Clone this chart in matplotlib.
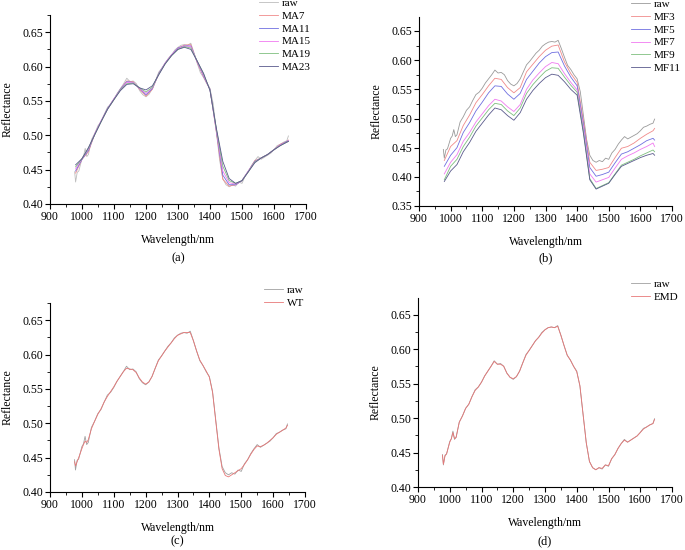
import numpy as np
import matplotlib
matplotlib.use("Agg")
from matplotlib import pyplot as plt
from matplotlib.ticker import MultipleLocator

plt.rcParams['font.family'] = ['Liberation Serif', 'DejaVu Serif']

# raw spectrum (10 nm grid with a few extra points at the noisy start)
wl_raw = [977, 980, 985, 990, 1000, 1005, 1010, 1015, 1020] + list(range(1030, 1650, 10)) + [1645]
raw = [0.447, 0.432, 0.446, 0.448, 0.466, 0.470, 0.481, 0.469, 0.472, 0.494,
       0.503, 0.514, 0.520, 0.531, 0.541, 0.545, 0.552, 0.561, 0.568, 0.575,
       0.583, 0.578, 0.579, 0.575, 0.565, 0.559, 0.556, 0.560, 0.568, 0.580,
       0.592, 0.598, 0.605, 0.612, 0.617, 0.624, 0.628, 0.631, 0.632, 0.631,
       0.634, 0.620, 0.605, 0.591, 0.584, 0.575, 0.568, 0.546, 0.505, 0.464,
       0.437, 0.428, 0.425, 0.428, 0.426, 0.432, 0.430, 0.441, 0.447, 0.456,
       0.463, 0.469, 0.465, 0.468, 0.471, 0.474, 0.479, 0.485, 0.487, 0.490,
       0.492, 0.499]
wt = [0.444, 0.438, 0.444, 0.450, 0.463, 0.469, 0.474, 0.472, 0.476, 0.492,
      0.503, 0.513, 0.521, 0.531, 0.539, 0.546, 0.553, 0.561, 0.568, 0.575,
      0.580, 0.579, 0.578, 0.574, 0.566, 0.560, 0.557, 0.560, 0.568, 0.580,
      0.591, 0.598, 0.605, 0.611, 0.617, 0.623, 0.628, 0.630, 0.632, 0.632,
      0.632, 0.620, 0.605, 0.592, 0.584, 0.576, 0.567, 0.545, 0.503, 0.462,
      0.434, 0.424, 0.422, 0.425, 0.428, 0.431, 0.434, 0.440, 0.447, 0.455,
      0.462, 0.467, 0.466, 0.468, 0.471, 0.475, 0.479, 0.484, 0.487, 0.490,
      0.493, 0.497]
emd = [0.446, 0.433, 0.445, 0.448, 0.465, 0.470, 0.479, 0.470, 0.472, 0.494,
       0.503, 0.514, 0.520, 0.531, 0.540, 0.545, 0.552, 0.561, 0.568, 0.575,
       0.582, 0.578, 0.578, 0.575, 0.565, 0.559, 0.557, 0.560, 0.568, 0.580,
       0.591, 0.598, 0.605, 0.612, 0.617, 0.623, 0.628, 0.631, 0.632, 0.631,
       0.633, 0.620, 0.605, 0.591, 0.584, 0.575, 0.567, 0.547, 0.505, 0.464,
       0.437, 0.428, 0.425, 0.428, 0.427, 0.432, 0.431, 0.441, 0.447, 0.456,
       0.463, 0.468, 0.465, 0.468, 0.471, 0.474, 0.479, 0.484, 0.487, 0.490,
       0.492, 0.498]

# filtered series on a 20 nm grid
wl_f = list(range(980, 1650, 20)) + [1645]
ma7 = [0.445, 0.465, 0.476, 0.502, 0.521, 0.539, 0.553, 0.567, 0.579, 0.578, 0.567, 0.557,
       0.567, 0.590, 0.605, 0.617, 0.627, 0.631, 0.632, 0.606, 0.585, 0.567, 0.504, 0.436,
       0.426, 0.428, 0.434, 0.448, 0.463, 0.467, 0.472, 0.479, 0.487, 0.491, 0.493]
ma11 = [0.448, 0.465, 0.478, 0.502, 0.521, 0.539, 0.553, 0.567, 0.578, 0.577, 0.568, 0.559,
        0.568, 0.590, 0.605, 0.617, 0.627, 0.630, 0.630, 0.607, 0.586, 0.567, 0.506, 0.442,
        0.428, 0.428, 0.434, 0.448, 0.462, 0.467, 0.472, 0.479, 0.486, 0.491, 0.492]
ma15 = [0.451, 0.466, 0.480, 0.502, 0.521, 0.538, 0.553, 0.566, 0.577, 0.577, 0.568, 0.561,
        0.569, 0.589, 0.605, 0.617, 0.626, 0.630, 0.629, 0.607, 0.587, 0.566, 0.507, 0.448,
        0.431, 0.429, 0.434, 0.448, 0.461, 0.467, 0.472, 0.479, 0.486, 0.490, 0.492]
ma19 = [0.454, 0.466, 0.481, 0.501, 0.520, 0.538, 0.552, 0.566, 0.575, 0.576, 0.569, 0.563,
        0.570, 0.589, 0.604, 0.616, 0.625, 0.629, 0.627, 0.608, 0.589, 0.566, 0.509, 0.455,
        0.434, 0.430, 0.434, 0.447, 0.461, 0.467, 0.472, 0.479, 0.485, 0.490, 0.491]
ma23 = [0.457, 0.466, 0.482, 0.501, 0.520, 0.538, 0.552, 0.565, 0.574, 0.575, 0.569, 0.566,
        0.572, 0.588, 0.604, 0.616, 0.625, 0.628, 0.625, 0.608, 0.590, 0.565, 0.510, 0.462,
        0.437, 0.430, 0.434, 0.447, 0.460, 0.467, 0.472, 0.479, 0.485, 0.490, 0.491]

mf3 = [0.428, 0.452, 0.462, 0.488, 0.506, 0.527, 0.541, 0.556, 0.569, 0.567, 0.553, 0.544,
       0.553, 0.580, 0.593, 0.606, 0.617, 0.624, 0.626, 0.597, 0.577, 0.562, 0.496, 0.425,
       0.411, 0.413, 0.416, 0.433, 0.449, 0.452, 0.458, 0.466, 0.473, 0.479, 0.483]
mf5 = [0.418, 0.437, 0.450, 0.476, 0.493, 0.513, 0.528, 0.544, 0.556, 0.555, 0.542, 0.533,
       0.543, 0.567, 0.581, 0.595, 0.606, 0.613, 0.614, 0.590, 0.571, 0.556, 0.490, 0.416,
       0.401, 0.404, 0.408, 0.424, 0.439, 0.443, 0.449, 0.455, 0.462, 0.466, 0.463]
mf7 = [0.405, 0.425, 0.438, 0.461, 0.476, 0.494, 0.508, 0.522, 0.533, 0.530, 0.520, 0.512,
       0.524, 0.550, 0.566, 0.578, 0.589, 0.596, 0.594, 0.577, 0.562, 0.549, 0.484, 0.405,
       0.391, 0.395, 0.399, 0.415, 0.430, 0.436, 0.441, 0.447, 0.452, 0.458, 0.452]
mf9 = [0.395, 0.418, 0.430, 0.452, 0.468, 0.487, 0.501, 0.515, 0.526, 0.524, 0.513, 0.505,
       0.518, 0.543, 0.558, 0.570, 0.581, 0.587, 0.586, 0.571, 0.557, 0.545, 0.478, 0.397,
       0.380, 0.385, 0.390, 0.405, 0.420, 0.425, 0.430, 0.436, 0.441, 0.446, 0.443]
mf11 = [0.392, 0.410, 0.421, 0.443, 0.459, 0.478, 0.492, 0.506, 0.518, 0.515, 0.505, 0.497,
        0.510, 0.533, 0.548, 0.560, 0.570, 0.576, 0.574, 0.563, 0.550, 0.540, 0.474, 0.395,
        0.379, 0.384, 0.389, 0.404, 0.418, 0.423, 0.428, 0.433, 0.437, 0.440, 0.437]

c_raw = '#bdbdbd'
c_red = '#f08a8a'
c_blue = '#6f6fe0'
c_mag = '#f07af0'
c_green = '#7ebf7e'
c_navy = '#5a5a8c'


def style_ax(ax, ylo, yhi, ymajor):
    for s in ['top', 'right']:
        ax.spines[s].set_visible(False)
    ax.spines['left'].set_linewidth(0.8)
    ax.spines['bottom'].set_linewidth(0.8)
    ax.set_xlim(900, 1700)
    ax.set_ylim(ylo, yhi)
    ax.xaxis.set_major_locator(MultipleLocator(100))
    ax.xaxis.set_minor_locator(MultipleLocator(50))
    ax.yaxis.set_major_locator(MultipleLocator(ymajor))
    ax.yaxis.set_minor_locator(MultipleLocator(ymajor / 2))
    ax.tick_params(which='major', direction='out', length=3.5, width=0.8, labelsize=8.5, pad=1.5)
    ax.tick_params(which='minor', direction='out', length=2, width=0.6)
    ax.yaxis.set_major_formatter(plt.FuncFormatter(lambda v, p: f"{v:.2f}"))
    ax.set_xlabel('Wavelength/nm', fontsize=8.5, labelpad=8)
    ax.set_ylabel('Reflectance', fontsize=8.5, labelpad=6)


def add_legend(ax, fig, x, y):
    ax.legend(loc='upper left', bbox_to_anchor=(x / 685, 1 - y / 550),
              bbox_transform=fig.transFigure, frameon=False, fontsize=8,
              borderpad=0, borderaxespad=0, handlelength=1.7, handletextpad=0.35,
              labelspacing=0.28)


fig = plt.figure(figsize=(6.85, 5.5), dpi=100)

ax_a = fig.add_axes([50 / 685, 1 - 204 / 550, 256 / 685, 189 / 550])
ax_b = fig.add_axes([419 / 685, 1 - 206 / 550, 253 / 685, 189 / 550])
ax_c = fig.add_axes([50 / 685, 1 - 492 / 550, 255 / 685, 189 / 550])
ax_d = fig.add_axes([418 / 685, 1 - 487 / 550, 254 / 685, 189 / 550])

lw = 0.6

# (a) moving average
ax_a.plot(wl_raw, raw, color=c_raw, lw=lw, label='raw')
ax_a.plot(wl_f, ma7, color=c_red, lw=lw, label='MA7')
ax_a.plot(wl_f, ma11, color=c_blue, lw=lw, label='MA11')
ax_a.plot(wl_f, ma15, color=c_mag, lw=lw, label='MA15')
ax_a.plot(wl_f, ma19, color=c_green, lw=lw, label='MA19')
ax_a.plot(wl_f, ma23, color=c_navy, lw=lw, label='MA23')
style_ax(ax_a, 0.40, 0.675, 0.05)
add_legend(ax_a, fig, 259, -2)

# (b) median filter
ax_b.plot(wl_raw, raw, color='#9a9a9a', lw=lw, label='raw')
ax_b.plot(wl_f, mf3, color=c_red, lw=lw, label='MF3')
ax_b.plot(wl_f, mf5, color=c_blue, lw=lw, label='MF5')
ax_b.plot(wl_f, mf7, color=c_mag, lw=lw, label='MF7')
ax_b.plot(wl_f, mf9, color=c_green, lw=lw, label='MF9')
ax_b.plot(wl_f, mf11, color=c_navy, lw=lw, label='MF11')
style_ax(ax_b, 0.35, 0.674, 0.05)
add_legend(ax_b, fig, 631, -1)

# (c) wavelet
ax_c.plot(wl_raw, raw, color='#a0a0a0', lw=lw, label='raw')
ax_c.plot(wl_raw, wt, color='#e87878', lw=lw, label='WT')
style_ax(ax_c, 0.40, 0.675, 0.05)
add_legend(ax_c, fig, 264, 285)

# (d) EMD
ax_d.plot(wl_raw, raw, color='#a0a0a0', lw=lw, label='raw')
ax_d.plot(wl_raw, emd, color='#e87878', lw=lw, label='EMD')
style_ax(ax_d, 0.40, 0.674, 0.05)
add_legend(ax_d, fig, 631, 279)

# panel letters under each plot
for ax, lab, ypix in [(ax_a, '(a)', 258), (ax_b, '(b)', 258), (ax_c, '(c)', 541), (ax_d, '(d)', 541)]:
    pos = ax.get_position()
    fig.text(pos.x0 + pos.width / 2, 1 - ypix / 550, lab, ha='center', va='center', fontsize=9)

plt.savefig('out.png', dpi=100)
plt.close()
